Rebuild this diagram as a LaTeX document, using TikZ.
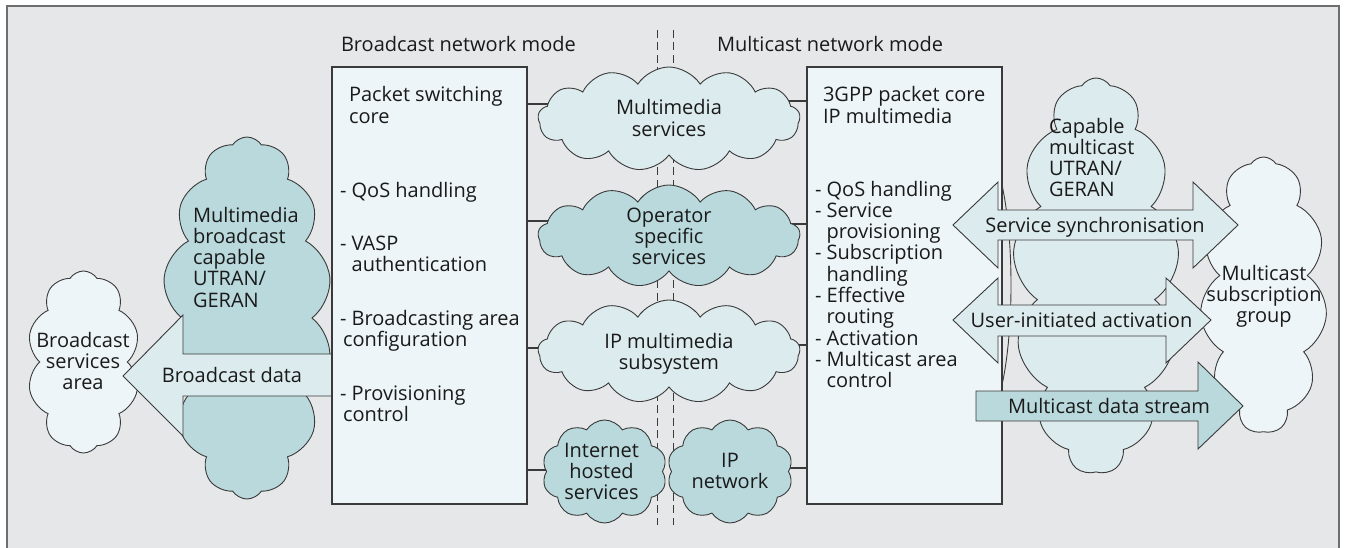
\documentclass[tikz,border=0pt]{standalone}
\usepackage{fontspec}
\setmainfont{Open Sans}
\usetikzlibrary{shapes.symbols}

\definecolor{framebg}{HTML}{E6E7E8}
\definecolor{frameline}{HTML}{6D6E70}
\definecolor{boxfill}{HTML}{EDF5F8}
\definecolor{paleteal}{HTML}{DCEBEE}
\definecolor{paleblue}{HTML}{EDF5F8}
\definecolor{deepteal}{HTML}{B9D9DC}
\definecolor{inkline}{HTML}{3A3A3A}
\definecolor{ink}{HTML}{1A1A1A}

\tikzset{
  core/.style={draw=inkline, line width=1.2pt, fill=boxfill, inner sep=0pt, outer sep=0pt},
  cloudnode/.style={cloud, draw=inkline, line width=0.9pt, cloud ignores aspect,
                    cloud puff arc=115, inner sep=0pt, outer sep=0pt},
  link/.style={draw=inkline, line width=1.3pt},
  dashline/.style={draw=inkline, line width=0.9pt, dash pattern=on 8pt off 4.5pt},
  blockarrow/.style={draw=inkline, line width=0.9pt, line join=miter},
  txt/.style={inner sep=0pt, outer sep=0pt, text=ink, font=\fontsize{20}{21.3}\selectfont},
  % multi-line labels are placed by the baseline of their last line
  lblL/.style={txt, align=left, anchor=base west},
  lblC/.style={txt, align=center, anchor=base},
}

\begin{document}
\begin{tikzpicture}[x=1pt, y=-1pt]
\useasboundingbox (0,0) rectangle (1351,548);

% frame
\fill[framebg] (7,6) rectangle (1338.5,548);
\draw[frameline, line width=2pt] (7,548) -- (7,6) -- (1338.5,6) -- (1338.5,548);

% divider between the two network modes
\coordinate (divAtop) at (657,30);
\coordinate (divAbot) at (657,525);
\coordinate (divBtop) at (673,30);
\coordinate (divBbot) at (673,525);
\draw[dashline] (divAtop) -- (divAbot);
\draw[dashline] (divBtop) -- (divBbot);

% mode titles
\node[lblL] (titleB) at (341,52) {Broadcast network mode};
\node[lblL] (titleM) at (717,52) {Multicast network mode};

% broadcast side clouds
\node[cloudnode, fill=deepteal, cloud puffs=14, minimum width=170pt, minimum height=362pt] (mbc) at (247,318) {};
\node[lblL] (mbcT) at (193,307.2) {Multimedia\\broadcast\\capable\\UTRAN/\\GERAN};
\node[cloudnode, fill=paleblue, cloud puffs=10, minimum width=113pt, minimum height=182pt] (bsa) at (83.5,362) {};
\node[lblC] (bsaT) at (83,389.6) {Broadcast\\services\\area};

% packet cores
\node[core, anchor=north west, minimum width=195pt, minimum height=437pt] (lbox) at (332,67) {};
\node[core, anchor=north west, minimum width=195pt, minimum height=437pt] (rbox) at (807,67) {};

% broadcast data arrow
\draw[blockarrow, fill=paleteal] (123,376) -- (183,315) -- (183,354) -- (lbox.west |- 0,354)
  -- (lbox.west |- 0,396) -- (183,396) -- (183,436) -- cycle;
\draw[inkline, line width=1.2pt] (lbox.north west) -- (lbox.south west);
\node[lblC] (bdataT) at (232,382) {Broadcast data};

% core texts
\node[lblL] (lhead) at (349,123.3) {Packet switching\\core};
\node[lblL] (l1) at (340,197) {- QoS handling};
\node[lblL] (l2) at (340,271.3) {- VASP\\\hphantom{- }authentication};
\node[lblL] (l3) at (340,346.3) {- Broadcasting area\\\hspace*{3pt}configuration};
\node[lblL] (l4) at (340,421.3) {- Provisioning\\\hspace*{3pt}control};

\node[lblL] (rhead) at (823,123.3) {3GPP packet core\\IP multimedia};
\node[lblL] (rlist) at (815,387.7) {- QoS handling\\- Service\\\hphantom{- }provisioning\\- Subscription\\\hphantom{- }handling\\- Effective\\\hphantom{- }routing\\- Activation\\- Multicast area\\\hphantom{- }control};

% links from the cores into the service clouds
\coordinate (mmsL) at (600,104);
\coordinate (opsL) at (600,221);
\coordinate (imsL) at (600,348);
\coordinate (ihsL) at (600,470);
\coordinate (mmsR) at (740,101);
\coordinate (opsR) at (740,224);
\coordinate (imsR) at (740,345);
\coordinate (ipnR) at (740,468);
\draw[link] (lbox.east |- mmsL) -- (mmsL);
\draw[link] (lbox.east |- opsL) -- (opsL);
\draw[link] (lbox.east |- imsL) -- (imsL);
\draw[link] (lbox.east |- ihsL) -- (ihsL);
\draw[link] (rbox.west |- mmsR) -- (mmsR);
\draw[link] (rbox.west |- opsR) -- (opsR);
\draw[link] (rbox.west |- imsR) -- (imsR);
\draw[link] (rbox.west |- ipnR) -- (ipnR);

% service clouds
\node[cloudnode, fill=paleteal, cloud puffs=13, minimum width=262pt, minimum height=104pt] (mms) at (669,119) {};
\node[lblC] (mmsT) at (669,136.3) {Multimedia\\services};
\node[cloudnode, fill=deepteal, cloud puffs=13, minimum width=262pt, minimum height=102pt] (ops) at (669,236) {};
\node[lblC] (opsT) at (669,264.6) {Operator\\specific\\services};
\node[cloudnode, fill=paleteal, cloud puffs=13, minimum width=262pt, minimum height=103pt] (ims) at (669,351.5) {};
\node[lblC] (imsT) at (669,369.3) {IP multimedia\\subsystem};
\node[cloudnode, fill=deepteal, cloud puffs=10, minimum width=125pt, minimum height=103pt] (ihs) at (604.5,471.5) {};
\node[lblC] (ihsT) at (601.5,499.6) {Internet\\hosted\\services};
\node[cloudnode, fill=deepteal, cloud puffs=10, minimum width=126pt, minimum height=103pt] (ipn) at (730,471.5) {};
\node[lblC] (ipnT) at (730,488.3) {IP\\network};

% multicast side clouds
\coordinate (seamTop) at (1002,185);
\coordinate (seamBot) at (1002,385);
\draw[inkline, line width=0.9pt] (seamTop) .. controls (1014,240) and (1014,330) .. (seamBot);
\node[cloudnode, fill=paleteal, cloud puffs=13, minimum width=166pt, minimum height=396pt] (cmc) at (1096,276) {};
\node[lblL] (cmcT) at (1049,196.9) {Capable\\multicast\\UTRAN/\\GERAN};
\node[cloudnode, fill=paleblue, cloud puffs=11, minimum width=127pt, minimum height=276pt] (msg) at (1263.5,295) {};
\node[lblC] (msgT) at (1264,322.6) {Multicast\\subscription\\group};

% multicast arrows
\draw[blockarrow, fill=paleteal] (953,225) -- (998,182) -- (998,210) -- (1193,210) -- (1193,182)
  -- (1238,225) -- (1193,268) -- (1193,240) -- (998,240) -- (998,268) -- cycle;
\node[lblC] (syncT) at (1095,232) {Service synchronisation};
\draw[blockarrow, fill=paleteal] (953,320) -- (998,278) -- (998,305) -- (1166,305) -- (1166,278)
  -- (1211,320) -- (1166,363) -- (1166,336) -- (998,336) -- (998,363) -- cycle;
\node[lblC] (uiaT) at (1081.5,327) {User-initiated activation};
\draw[blockarrow, fill=deepteal] (976,391) -- (1198,391) -- (1198,362) -- (1243,406)
  -- (1198,449) -- (1198,421) -- (976,421) -- cycle;
\node[lblC] (mdsT) at (1109,413) {Multicast data stream};
\end{tikzpicture}
\end{document}
